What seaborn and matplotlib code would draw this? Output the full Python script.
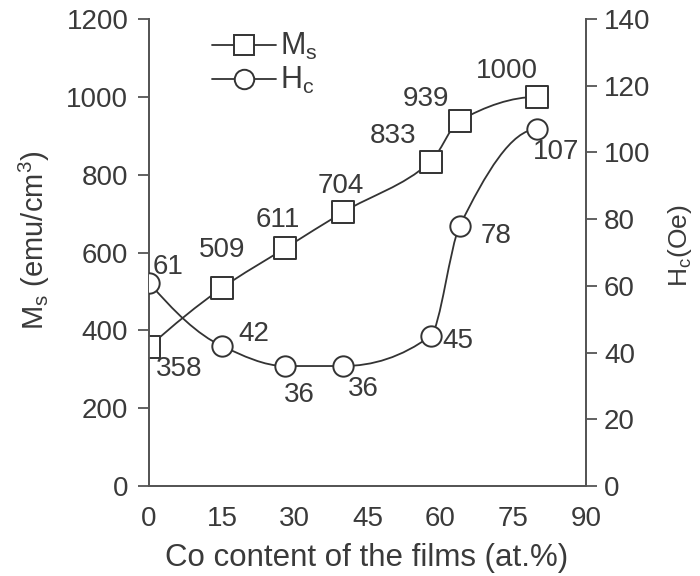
import numpy as np
import matplotlib
matplotlib.use("Agg")
import matplotlib.pyplot as plt
from matplotlib.path import Path
from matplotlib.patches import PathPatch
from matplotlib.lines import Line2D
import seaborn as sns

# Co content of the films (at.%)
co_content = [0, 15, 28, 40, 58, 64, 80]
# Saturation magnetisation (emu/cm^3)
ms_values = [358, 509, 611, 704, 833, 939, 1000]
# Coercivity (Oe)
hc_values = [61, 42, 36, 36, 45, 78, 107]

x_ticks = [0, 15, 30, 45, 60, 75, 90]
ms_ticks = [0, 200, 400, 600, 800, 1000, 1200]
hc_ticks = [0, 20, 40, 60, 80, 100, 120, 140]

INK = "#333333"
TEXT = "#3a3a3a"

sns.set_theme(style="white")
plt.rcParams["font.family"] = ["Liberation Sans", "DejaVu Sans"]
plt.rcParams["mathtext.fontset"] = "custom"
plt.rcParams["mathtext.rm"] = "Liberation Sans"
plt.rcParams["mathtext.it"] = "Liberation Sans"


def pchip_slopes(x, y):
    x = np.asarray(x, float)
    y = np.asarray(y, float)
    h = np.diff(x)
    delta = np.diff(y) / h
    n = len(x)
    d = np.zeros(n)
    for k in range(1, n - 1):
        if delta[k - 1] * delta[k] > 0:
            w1 = 2 * h[k] + h[k - 1]
            w2 = h[k] + 2 * h[k - 1]
            d[k] = (w1 + w2) / (w1 / delta[k - 1] + w2 / delta[k])

    def end(h0, h1, d0, d1):
        s = ((2 * h0 + h1) * d0 - h0 * d1) / (h0 + h1)
        if np.sign(s) != np.sign(d0):
            return 0.0
        if np.sign(d0) != np.sign(d1) and abs(s) > abs(3 * d0):
            return 3 * d0
        return s

    d[0] = end(h[0], h[1], delta[0], delta[1])
    d[-1] = end(h[-1], h[-2], delta[-1], delta[-2])
    return d


def smooth_path(x, y):
    """Bezier path through the points with shape-preserving tangents."""
    d = pchip_slopes(x, y)
    verts = [(x[0], y[0])]
    codes = [Path.MOVETO]
    for k in range(len(x) - 1):
        h = x[k + 1] - x[k]
        verts += [(x[k] + h / 3, y[k] + d[k] * h / 3),
                  (x[k + 1] - h / 3, y[k + 1] - d[k + 1] * h / 3),
                  (x[k + 1], y[k + 1])]
        codes += [Path.CURVE4] * 3
    return Path(verts, codes)


fig = plt.figure(figsize=(7.0, 5.76), dpi=100)
ax = fig.add_axes([0.213, 0.156, 0.624, 0.811])
ax2 = ax.twinx()

# Ms curve and square markers
ax.add_patch(PathPatch(smooth_path(co_content, ms_values), fill=False,
                       edgecolor=INK, lw=1.3, zorder=2))
sns.scatterplot(x=co_content, y=ms_values, marker="s", s=240, color="white",
                edgecolor=INK, linewidth=1.4, zorder=3, ax=ax, legend=False)

# Hc curve and circle markers
ax2.add_patch(PathPatch(smooth_path(co_content, hc_values), fill=False,
                        edgecolor=INK, lw=1.3, zorder=2))
sns.scatterplot(x=co_content, y=hc_values, marker="o", s=215, color="white",
                edgecolor=INK, linewidth=1.4, zorder=3, ax=ax2, legend=False)

ax.set_xlim(0, 90)
ax.set_ylim(0, 1200)
ax2.set_ylim(0, 140)
ax.set_xticks(x_ticks)
ax.set_yticks(ms_ticks)
ax2.set_yticks(hc_ticks)

for a in (ax, ax2):
    a.spines["top"].set_visible(False)
    for s in ("left", "right", "bottom"):
        a.spines[s].set_color("#555555")
        a.spines[s].set_linewidth(1.3)
    a.tick_params(colors="#555555", labelcolor=TEXT, labelsize=20,
                  length=8, width=1.3, direction="out", pad=6)
    a.grid(False)
ax.tick_params(axis="x", pad=6)
ax.tick_params(axis="y", left=True, pad=7)
ax2.tick_params(axis="y", right=True, pad=5)

ax.set_xlabel("Co content of the films (at.%)", fontsize=22.5, color=TEXT)
ax.xaxis.set_label_coords(0.497, -0.122)
ax.set_ylabel(r"M$_\mathregular{s}$ (emu/cm$^\mathregular{3}$)", fontsize=21,
              color=TEXT)
ax.yaxis.set_label_coords(-0.222, 0.527)
ax2.set_ylabel(r"H$_\mathregular{c}$(Oe)", fontsize=19, color=TEXT,
               rotation=90)
ax2.yaxis.set_label_coords(1.183, 0.515)

# Value labels, offsets in pixels from each marker
ms_offsets = [(30, -22), (0, 38), (-7, 28), (-2, 26), (-38, 26), (-34, 22), (-30, 26)]
hc_offsets = [(19, 16), (32, 12), (14, -29), (20, -23), (27, -5), (36, -10), (19, -23)]
for xv, yv, (dx, dy) in zip(co_content, ms_values, ms_offsets):
    ax.annotate(f"{yv}", (xv, yv), xytext=(dx, dy), textcoords="offset pixels",
                ha="center", va="center", fontsize=20, color=TEXT, zorder=4)
for xv, yv, (dx, dy) in zip(co_content, hc_values, hc_offsets):
    ax2.annotate(f"{yv}", (xv, yv), xytext=(dx, dy), textcoords="offset pixels",
                 ha="center", va="center", fontsize=20, color=TEXT, zorder=4)

handles = [
    Line2D([], [], color=INK, lw=1.3, marker="s", markersize=15,
           markerfacecolor="white", markeredgecolor=INK, markeredgewidth=1.4),
    Line2D([], [], color=INK, lw=1.3, marker="o", markersize=14,
           markerfacecolor="white", markeredgecolor=INK, markeredgewidth=1.4),
]
leg = ax.legend(handles, [r"M$_\mathregular{s}$", r"H$_\mathregular{c}$"],
                loc="upper left", bbox_to_anchor=(0.115, 1.0), frameon=False,
                fontsize=22, handlelength=2.1, handletextpad=0.15,
                labelspacing=0.1, borderaxespad=0)
for t in leg.get_texts():
    t.set_color(TEXT)

fig.savefig("out.png", dpi=100)
